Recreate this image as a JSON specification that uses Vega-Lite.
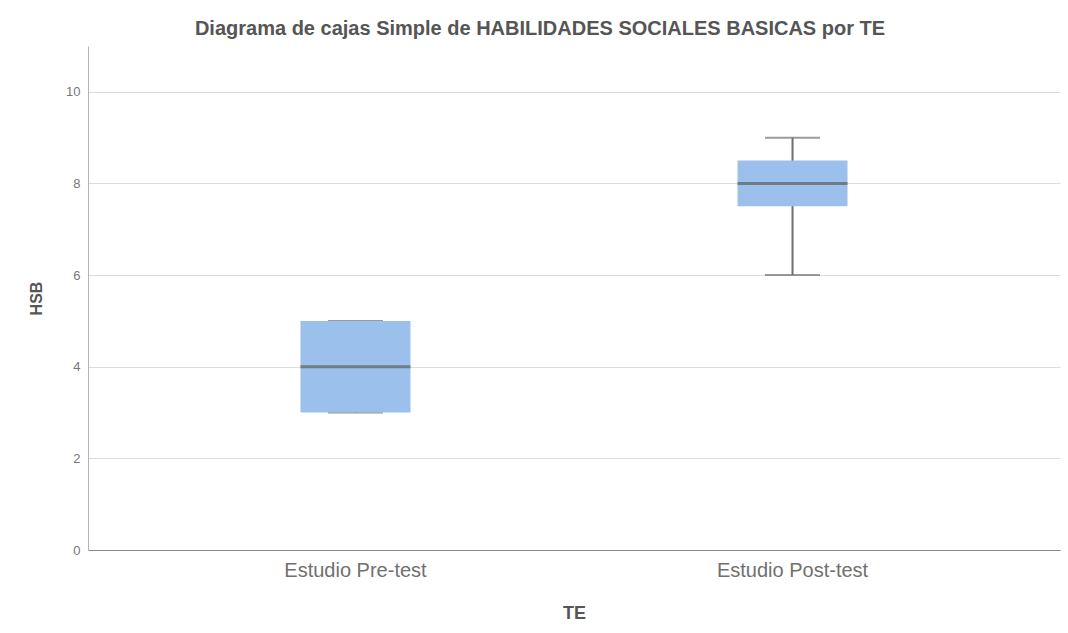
{
  "$schema": "https://vega.github.io/schema/vega-lite/v6.json",
  "width": 972,
  "height": 504,
  "autosize": {"type": "none"},
  "padding": {"left": 88, "top": 46, "right": 8, "bottom": 83},
  "background": "white",
  "config": {
    "view": {"stroke": null},
    "font": "Liberation Sans"
  },
  "title": {
    "text": "Diagrama de cajas Simple de HABILIDADES SOCIALES BASICAS por TE",
    "fontSize": 20,
    "fontWeight": "bold",
    "color": "#555555",
    "font": "Liberation Sans",
    "offset": 7,
    "dx": -34
  },
  "data": {
    "values": [
      {"TE": "Estudio Pre-test", "min": 3, "q1": 3, "median": 4, "q3": 5, "max": 5},
      {"TE": "Estudio Post-test", "min": 6, "q1": 7.5, "median": 8, "q3": 8.5, "max": 9}
    ]
  },
  "encoding": {
    "x": {
      "field": "TE",
      "type": "nominal",
      "sort": ["Estudio Pre-test", "Estudio Post-test"],
      "scale": {"type": "band", "paddingInner": 0, "paddingOuter": 0.112},
      "axis": {
        "title": "TE",
        "labelAngle": 0,
        "labelFontSize": 20,
        "labelColor": "#707070",
        "labelPadding": 10,
        "ticks": false,
        "domainColor": "#888888",
        "domainWidth": 1,
        "titleFontSize": 18,
        "titleFontWeight": "bold",
        "titleColor": "#555555",
        "titlePadding": 24,
        "grid": false
      }
    }
  },
  "layer": [
    {
      "mark": {"type": "rule", "color": "#6e6e6e", "strokeWidth": 2},
      "encoding": {
        "y": {
          "field": "min",
          "type": "quantitative",
          "scale": {"domain": [0, 11], "nice": false},
          "axis": {
            "title": "HSB",
            "values": [0, 2, 4, 6, 8, 10],
            "labelFontSize": 13,
            "labelColor": "#777777",
            "labelPadding": 8,
            "ticks": false,
            "domainColor": "#b5b5b5",
            "gridColor": "#dcdcdc",
            "titleFontSize": 16,
            "titleFontWeight": "bold",
            "titleColor": "#555555",
            "titlePadding": 21
          }
        },
        "y2": {"field": "max"}
      }
    },
    {
      "mark": {"type": "tick", "color": "#707070", "thickness": 2, "size": 55},
      "encoding": {"y": {"field": "min", "type": "quantitative"}}
    },
    {
      "mark": {"type": "tick", "color": "#707070", "thickness": 2, "size": 55},
      "encoding": {"y": {"field": "max", "type": "quantitative"}}
    },
    {
      "mark": {"type": "bar", "color": "#9bc0ec", "size": 110},
      "encoding": {
        "y": {"field": "q1", "type": "quantitative"},
        "y2": {"field": "q3"}
      }
    },
    {
      "mark": {"type": "tick", "color": "#5e5e5e", "thickness": 3, "size": 110},
      "encoding": {"y": {"field": "median", "type": "quantitative"}}
    }
  ]
}
